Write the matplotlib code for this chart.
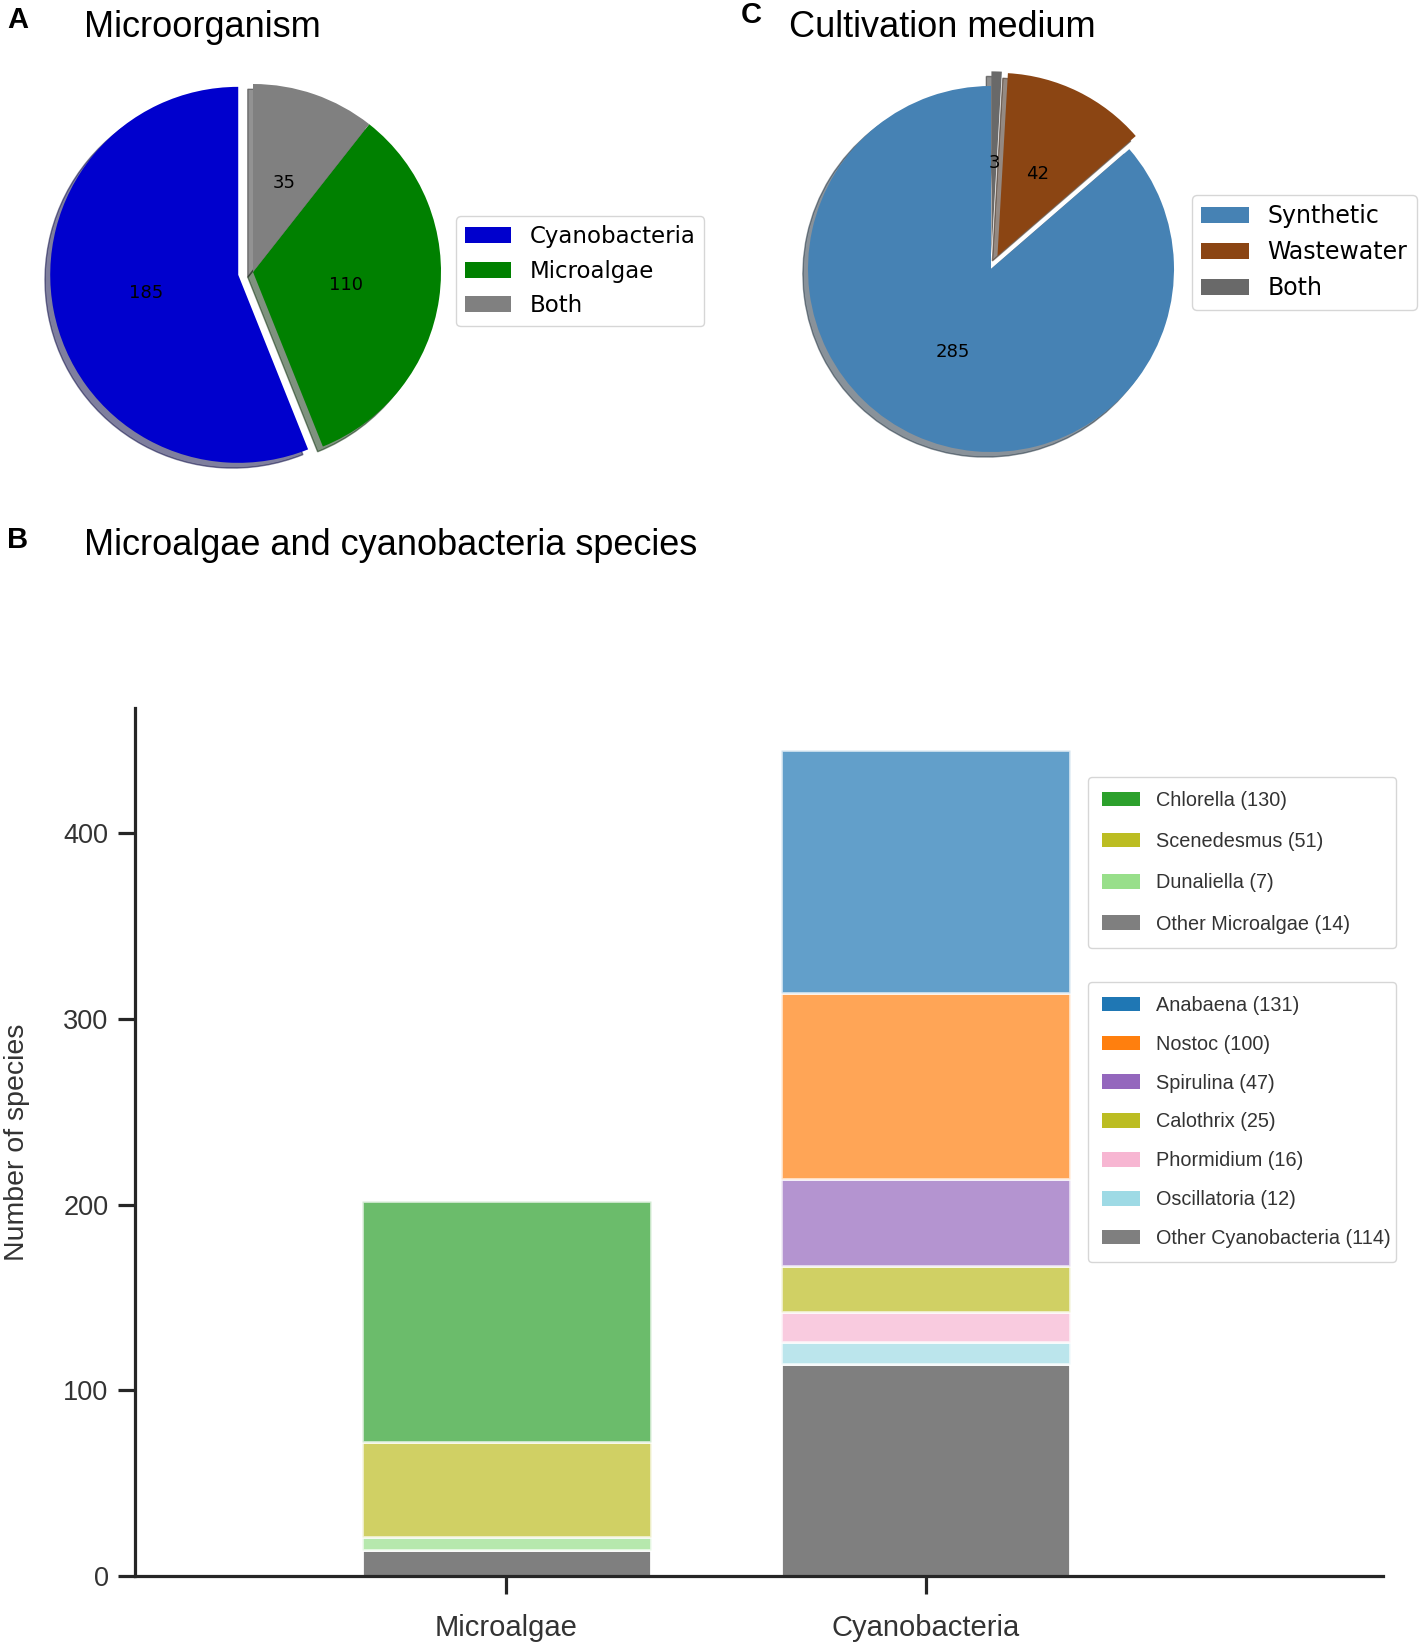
import matplotlib
matplotlib.use("Agg")
import matplotlib.pyplot as plt
from matplotlib.patches import Patch
import numpy as np

# ---------------- data ----------------
org_labels = ["Cyanobacteria", "Microalgae", "Both"]
org_values = [185, 110, 35]
org_colors = ["#0000cd", "#008000", "#808080"]

med_labels = ["Synthetic", "Wastewater", "Both"]
med_values = [285, 42, 3]
med_colors = ["#4682b4", "#8b4513", "#696969"]

bar_groups = ["Microalgae", "Cyanobacteria"]

micro_names = ["Chlorella", "Scenedesmus", "Dunaliella", "Other Microalgae"]
micro_values = [130, 51, 7, 14]
micro_colors = ["#2ca02c", "#bcbd22", "#98df8a", "#7f7f7f"]

cyano_names = ["Anabaena", "Nostoc", "Spirulina", "Calothrix", "Phormidium",
               "Oscillatoria", "Other Cyanobacteria"]
cyano_values = [131, 100, 47, 25, 16, 12, 114]
cyano_colors = ["#1f77b4", "#ff7f0e", "#9467bd", "#bcbd22", "#f7b6d2",
                "#9edae5", "#7f7f7f"]

# ---------------- figure ----------------
W, H = 1423, 1652
fig = plt.figure(figsize=(W / 100, H / 100), dpi=100)

def rect(x0, y0, x1, y1):
    # pixel box (top-left origin) -> figure fraction rect
    return [x0 / W, 1 - y1 / H, (x1 - x0) / W, (y1 - y0) / H]

def fx(x):
    return x / W

def fy(y):
    return 1 - y / H

arial = ["Liberation Sans", "DejaVu Sans"]

# panel letters and titles
fig.text(fx(7), fy(28), "A", fontsize=21, fontweight="bold", family=arial, va="baseline")
fig.text(fx(84), fy(37), "Microorganism", fontsize=26, family=arial, va="baseline")
fig.text(fx(741), fy(23), "C", fontsize=21, fontweight="bold", family=arial, va="baseline")
fig.text(fx(789), fy(37), "Cultivation medium", fontsize=26, family=arial, va="baseline")
fig.text(fx(7), fy(548), "B", fontsize=21, fontweight="bold", family=arial, va="baseline")
fig.text(fx(84), fy(555), "Microalgae and cyanobacteria species", fontsize=26,
         family=arial, va="baseline")

# ---------------- pie A ----------------
def value_fmt(values):
    tot = sum(values)
    return lambda p: f"{int(round(p * tot / 100.0))}"

RA = 188
cxA, cyA = 253, 272
L = 1.3
axA = fig.add_axes(rect(cxA - RA * L, cyA - RA * L, cxA + RA * L, cyA + RA * L))
wedges, _, _ = axA.pie(org_values, colors=org_colors, startangle=90,
                       explode=(0.08, 0, 0), shadow=True,
                       autopct=value_fmt(org_values), pctdistance=0.5,
                       textprops=dict(fontsize=13, family="DejaVu Sans"))
axA.set_xlim(-L, L)
axA.set_ylim(-L, L)
axA.set_aspect("equal")
fig.legend(wedges, org_labels, loc="upper left",
           bbox_to_anchor=(fx(456), fy(216)), borderaxespad=0,
           frameon=True, edgecolor="0.8",
           prop=dict(family="DejaVu Sans", size=16.5))

# ---------------- pie C ----------------
RC = 183
cxC, cyC = 991, 269
axC = fig.add_axes(rect(cxC - RC * L, cyC - RC * L, cxC + RC * L, cyC + RC * L))
wedgesC, _, _ = axC.pie(med_values, colors=med_colors, startangle=90,
                        explode=(0, 0.08, 0.08), shadow=True,
                        autopct=value_fmt(med_values), pctdistance=0.5,
                        textprops=dict(fontsize=13, family="DejaVu Sans"))
axC.set_xlim(-L, L)
axC.set_ylim(-L, L)
axC.set_aspect("equal")
fig.legend(wedgesC, med_labels, loc="upper left",
           bbox_to_anchor=(fx(1192), fy(195)), borderaxespad=0,
           frameon=True, edgecolor="0.8",
           prop=dict(family="DejaVu Sans", size=17))

# ---------------- bar B ----------------
axB = fig.add_axes(rect(135, 708, 1383, 1576))
x = np.arange(len(bar_groups))
width = 0.69

def seg_alpha(col):
    return 1.0 if col == "#7f7f7f" else 0.7

bottom = 0
for name, val, col in zip(micro_names[::-1], micro_values[::-1], micro_colors[::-1]):
    axB.bar(x[0], val, width, bottom=bottom, color=col, alpha=seg_alpha(col),
            edgecolor="white", linewidth=2)
    bottom += val

bottom = 0
for name, val, col in zip(cyano_names[::-1], cyano_values[::-1], cyano_colors[::-1]):
    axB.bar(x[1], val, width, bottom=bottom, color=col, alpha=seg_alpha(col),
            edgecolor="white", linewidth=2)
    bottom += val

axB.set_xlim(-0.885, 2.09)
axB.set_ylim(0, 467.5)
axB.set_xticks(x)
axB.set_xticklabels(bar_groups)
axB.set_yticks([0, 100, 200, 300, 400])
for sp in ["top", "right"]:
    axB.spines[sp].set_visible(False)
for sp in ["left", "bottom"]:
    axB.spines[sp].set_linewidth(2.3)
    axB.spines[sp].set_color("#262626")
axB.tick_params(axis="y", length=12, width=2.3, color="#262626",
                labelsize=19.5, labelcolor="#333333", pad=7)
axB.tick_params(axis="x", length=13, width=2.3, color="#262626",
                labelsize=21, labelcolor="#333333", pad=14)
for lab in axB.get_xticklabels() + axB.get_yticklabels():
    lab.set_family(arial)
axB.set_ylabel("Number of species", fontsize=20.5, color="#333333", family=arial)
axB.yaxis.set_label_coords(-0.0845, 0.5)

h1 = [Patch(facecolor=c, edgecolor="none") for c in micro_colors]
l1 = [f"{n} ({v})" for n, v in zip(micro_names, micro_values)]
h2 = [Patch(facecolor=c, edgecolor="none") for c in cyano_colors]
l2 = [f"{n} ({v})" for n, v in zip(cyano_names, cyano_values)]

legw = 308 / W
leg1 = fig.legend(h1, l1, loc="upper left",
                  bbox_to_anchor=(fx(1088), fy(777) - 0.1, legw, 0.1),
                  mode="expand",
                  borderaxespad=0, frameon=True, edgecolor="0.8",
                  labelspacing=1.12, handlelength=1.9, handleheight=0.75,
                  borderpad=0.7,
                  prop=dict(family=arial, size=14.3), labelcolor="#333333")
leg2 = fig.legend(h2, l2, loc="upper left",
                  bbox_to_anchor=(fx(1088), fy(982) - 0.1, legw, 0.1),
                  mode="expand",
                  borderaxespad=0, frameon=True, edgecolor="0.8",
                  labelspacing=1.0, handlelength=1.9, handleheight=0.75,
                  borderpad=0.7,
                  prop=dict(family=arial, size=14.3), labelcolor="#333333")

fig.savefig("out.png", dpi=100)
